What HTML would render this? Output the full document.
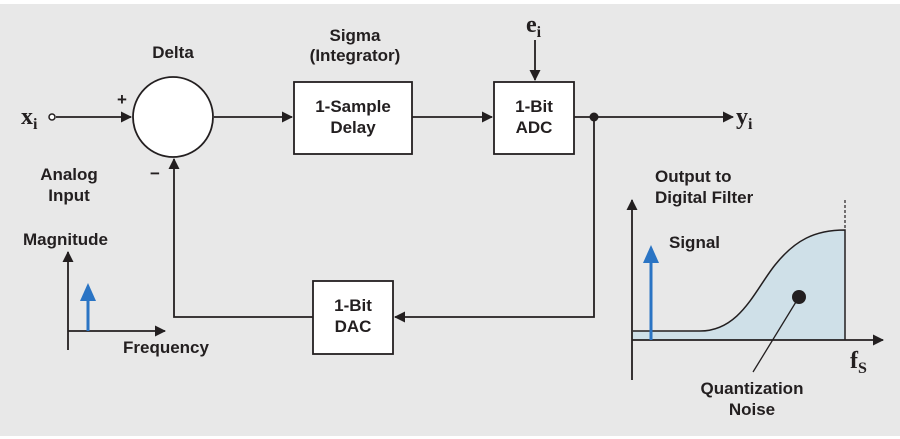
<!DOCTYPE html>
<html><head><style>body{margin:0;background:#fff}svg{display:block}</style></head><body>
<svg width="900" height="439" viewBox="0 0 900 439" xmlns="http://www.w3.org/2000/svg" font-family="Liberation Sans, Arial, sans-serif" font-weight="bold" fill="#231f20">
<defs><marker id="a" markerWidth="11" markerHeight="11" refX="10" refY="5.5" orient="auto" markerUnits="userSpaceOnUse"><path d="M0,0 L11,5.5 L0,11 z" fill="#231f20"/></marker>
<marker id="b" markerWidth="18" markerHeight="16" refX="9" refY="8" orient="auto" markerUnits="userSpaceOnUse"><path d="M0,0 L18,8 L0,16 z" fill="#2a74c4"/></marker></defs>
<rect x="0" y="4" width="900" height="432" fill="#e8e8e8"/>
<g stroke="#231f20" stroke-width="1.8" fill="none">
<line x1="56" y1="117" x2="131" y2="117" marker-end="url(#a)"/>
<line x1="214" y1="117" x2="292" y2="117" marker-end="url(#a)"/>
<line x1="412" y1="117" x2="492" y2="117" marker-end="url(#a)"/>
<line x1="574" y1="117" x2="733" y2="117" marker-end="url(#a)"/>
<line x1="535" y1="40" x2="535" y2="80" marker-end="url(#a)"/>
<polyline points="594,117 594,317 395,317" marker-end="url(#a)"/>
<polyline points="313,317 174,317 174,159" marker-end="url(#a)"/>
<line x1="68" y1="350" x2="68" y2="252" marker-end="url(#a)"/>
<line x1="68" y1="331" x2="165" y2="331" marker-end="url(#a)"/>
</g>
<circle cx="52" cy="117" r="3" fill="#fff" stroke="#231f20" stroke-width="1.5"/>
<circle cx="173" cy="117" r="40" fill="#fff" stroke="#231f20" stroke-width="1.8"/>
<rect x="294" y="82" width="118" height="72" fill="#fff" stroke="#231f20" stroke-width="1.8"/>
<rect x="494" y="82" width="80" height="72" fill="#fff" stroke="#231f20" stroke-width="1.8"/>
<rect x="313" y="281" width="80" height="73" fill="#fff" stroke="#231f20" stroke-width="1.8"/>
<circle cx="594" cy="117" r="4.5"/>
<line x1="88" y1="331" x2="88" y2="292" stroke="#2a74c4" stroke-width="3" marker-end="url(#b)"/>
<path d="M633,331 L700,331 C740,331 755,290 775,265 C795,240 815,230 845,230 L845,340 L633,340 Z" fill="#cfe0e8"/>
<path d="M633,331 L700,331 C740,331 755,290 775,265 C795,240 815,230 845,230 L845,340" fill="none" stroke="#231f20" stroke-width="1.5"/>
<line x1="845" y1="200" x2="845" y2="230" stroke="#231f20" stroke-width="1.2" stroke-dasharray="3,2"/>
<g stroke="#231f20" stroke-width="1.8" fill="none">
<line x1="632" y1="380" x2="632" y2="200" marker-end="url(#a)"/>
<line x1="632" y1="340" x2="883" y2="340" marker-end="url(#a)"/>
<line x1="799" y1="297" x2="753" y2="372" stroke-width="1.3"/>
</g>
<circle cx="799" cy="297" r="7"/>
<line x1="651" y1="340" x2="651" y2="254" stroke="#2a74c4" stroke-width="3" marker-end="url(#b)"/>
<g font-size="17" text-anchor="middle">
<text x="173" y="58">Delta</text>
<text x="355" y="41">Sigma</text>
<text x="355" y="61">(Integrator)</text>
<text x="353" y="112">1-Sample</text>
<text x="353" y="133">Delay</text>
<text x="534" y="112">1-Bit</text>
<text x="534" y="133">ADC</text>
<text x="353" y="311">1-Bit</text>
<text x="353" y="332">DAC</text>
<text x="69" y="180">Analog</text>
<text x="69" y="201">Input</text>
<text x="752" y="394">Quantization</text>
<text x="752" y="415">Noise</text>
</g>
<g font-size="17">
<text x="23" y="245">Magnitude</text>
<text x="123" y="353">Frequency</text>
<text x="655" y="182">Output to</text>
<text x="655" y="203">Digital Filter</text>
<text x="669" y="248">Signal</text>
<text x="117" y="105">+</text>
<text x="150" y="179">−</text>
</g>
<g font-family="Liberation Serif, serif" font-size="24">
<text x="21" y="124">x<tspan font-size="16" dy="5">i</tspan></text>
<text x="526" y="32">e<tspan font-size="16" dy="5">i</tspan></text>
<text x="736" y="124">y<tspan font-size="16" dy="5">i</tspan></text>
<text x="850" y="368">f<tspan font-size="16" dy="5">S</tspan></text>
</g>
</svg>
</body></html>
